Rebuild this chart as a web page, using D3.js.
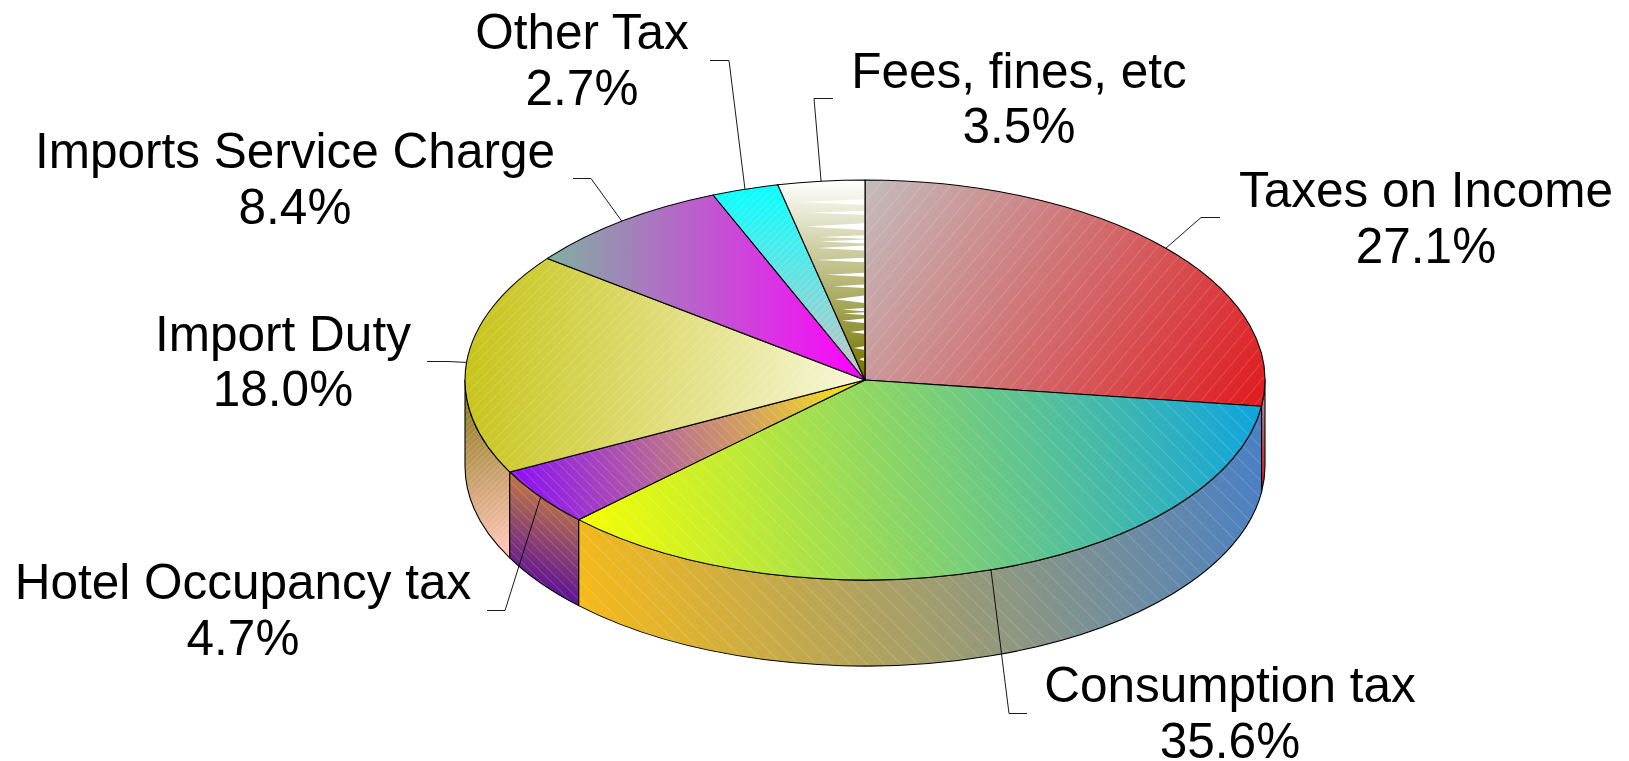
<!DOCTYPE html>
<html>
<head>
<meta charset="utf-8">
<title>Revenue by source</title>
<script src="https://cdn.jsdelivr.net/npm/d3@7/dist/d3.min.js"></script>
<style>
	html, body { margin: 0; padding: 0; background: #fff; }
	svg { display: block; }
	text { font-family: "Liberation Sans", Arial, sans-serif; font-size: 49.5px; fill: #000; text-anchor: middle; }
</style>
</head>
<body>
<div id="main"></div>
<script>
	var categories = ["Taxes on Income", "Consumption tax", "Hotel Occupancy tax", "Import Duty", "Imports Service Charge", "Other Tax", "Fees, fines, etc"];
	var shares = [27.1, 35.6, 4.7, 18.0, 8.4, 2.7, 3.5];

	/* white streaks in the fees slice, fractions of the slice height and of the radius */
	var streakDepth = [0.11, 0.164, 0.233, 0.285, 0.307, 0.34, 0.4, 0.474, 0.531, 0.596, 0.648, 0.668, 0.704, 0.76, 0.84, 0.896];
	var streakLength = [0.16, 0.135, 0.143, 0.114, 0.11, 0.118, 0.118, 0.093, 0.077, 0.073, 0.055, 0.052, 0.055, 0.035, 0.026, 0.012];
	var streakThick = [0.027, 0.02, 0.033, 0.018, 0.02, 0.025, 0.022, 0.02, 0.018, 0.037, 0.017, 0.013, 0.022, 0.018, 0.017, 0.017];

	var width = 1629, height = 761;
	var cx = 865, cy = 380, rx = 400, ry = 200, depth = 86;

	/* gradient end points and colours for each top face and wall */
	var topStyle = [
		{ from: [865, 181], to: [1258, 408], c0: "#c4bcbc", c1: "#e01c20", hatch: [-50, 11] },
		{ from: [579, 519], to: [1261, 406], c0: "#f6ff00", c1: "#0ea4de", hatch: [45, 12] },
		{ from: [510, 472], to: [865, 380], c0: "#8c10f4", c1: "#f8ea10", hatch: [45, 7.5] },
		{ from: [470, 340], to: [865, 380], c0: "#c8c41c", c1: "#f8f8dc", hatch: [-45, 7.5] },
		{ from: [548, 320], to: [865, 320], c0: "#80b0a0", c1: "#ff00ff", hatch: null },
		{ from: [800, 186], to: [800, 378], c0: "#08ffff", c1: "#ccc2c2", hatch: [-45, 5] },
		{ from: [820, 181], to: [820, 372], c0: "#ffffff", c1: "#767600", hatch: null }
	];
	var wallStyle = [
		{ from: [1263, 385], to: [1263, 485], c0: "#a89c9c", c1: "#e01414", hatch: null },
		{ from: [579, 600], to: [1261, 470], c0: "#f6ba1a", c1: "#4a80c4", hatch: [45, 12] },
		{ from: [565, 500], to: [525, 590], c0: "#bc7448", c1: "#560a9c", hatch: [45, 7] },
		{ from: [465, 385], to: [512, 545], c0: "#847610", c1: "#ffc4b6", hatch: [-45, 4] }
	];

	/* label centre and baselines, then the leader elbow and its end */
	var labelStyle = [
		{ x: 1426, y0: 207, y1: 263, elbow: [1201, 217.5], end: [1220, 217.5] },
		{ x: 1230, y0: 702, y1: 758, elbow: [1009, 713.5], end: [1027, 713.5] },
		{ x: 243, y0: 599, y1: 655, elbow: [505, 610.5], end: [487, 610.5] },
		{ x: 283, y0: 351, y1: 406, elbow: [448, 361.5], end: [427, 361.5] },
		{ x: 295, y0: 168, y1: 224, elbow: [591, 178.5], end: [573, 178.5] },
		{ x: 582, y0: 49, y1: 105, elbow: [729, 60.5], end: [710, 60.5] },
		{ x: 1019, y0: 88, y1: 143, elbow: [814, 98.5], end: [833, 98.5] }
	];

	var svg = d3.select("#main").append("svg")
		.attr("width", width)
		.attr("height", height);
	var defs = svg.append("defs");

	var pie = d3.pie().sort(null).startAngle(0).endAngle(2 * Math.PI);
	var slices = pie(shares);

	function px(a) { return cx + rx * Math.sin(a); }
	function py(a) { return cy - ry * Math.cos(a); }

	function topPath(d) {
		var large = d.endAngle - d.startAngle > Math.PI ? 1 : 0;
		return "M" + cx + "," + cy + "L" + px(d.startAngle) + "," + py(d.startAngle) +
			"A" + rx + "," + ry + " 0 " + large + " 1 " + px(d.endAngle) + "," + py(d.endAngle) + "Z";
	}

	function wallPath(a0, a1) {
		return "M" + px(a0) + "," + py(a0) +
			"A" + rx + "," + ry + " 0 0 1 " + px(a1) + "," + py(a1) +
			"L" + px(a1) + "," + (py(a1) + depth) +
			"A" + rx + "," + ry + " 0 0 0 " + px(a0) + "," + (py(a0) + depth) + "Z";
	}

	function addGradient(id, s) {
		var g = defs.append("linearGradient")
			.attr("id", id)
			.attr("gradientUnits", "userSpaceOnUse")
			.attr("x1", s.from[0]).attr("y1", s.from[1])
			.attr("x2", s.to[0]).attr("y2", s.to[1]);
		g.append("stop").attr("offset", 0).attr("stop-color", s.c0);
		g.append("stop").attr("offset", 1).attr("stop-color", s.c1);
	}

	function addHatch(id, h) {
		var p = defs.append("pattern")
			.attr("id", id)
			.attr("patternUnits", "userSpaceOnUse")
			.attr("width", h[1])
			.attr("height", h[1])
			.attr("patternTransform", "rotate(" + h[0] + ")");
		p.append("line")
			.attr("x1", 0).attr("y1", 0)
			.attr("x2", h[1]).attr("y2", 0)
			.attr("stroke", "#fff")
			.attr("stroke-opacity", 0.24)
			.attr("stroke-width", 1.2);
	}

	function drawFace(g, path, id, s) {
		addGradient("grad" + id, s);
		g.append("path").attr("d", path).attr("fill", "url(#grad" + id + ")");
		if (s.hatch) {
			addHatch("hatch" + id, s.hatch);
			g.append("path").attr("d", path).attr("fill", "url(#hatch" + id + ")");
		}
		g.append("path")
			.attr("d", path)
			.attr("fill", "none")
			.attr("stroke", "#000")
			.attr("stroke-width", 1.1)
			.attr("stroke-linejoin", "round");
	}

	/* only the front half of the rim shows */
	var walls = svg.append("g");
	[0, 3, 1, 2].forEach(function(i) {
		var a0 = Math.max(slices[i].startAngle, Math.PI / 2);
		var a1 = Math.min(slices[i].endAngle, 3 * Math.PI / 2);
		drawFace(walls, wallPath(a0, a1), "Wall" + i, wallStyle[i]);
	});

	var tops = svg.append("g");
	slices.forEach(function(d, i) {
		drawFace(tops, topPath(d), "Top" + i, topStyle[i]);
	});

	var streakY = d3.scaleLinear().domain([0, 1]).range([cy - ry, cy]);
	var streakLine = d3.line();
	tops.append("g").selectAll("path")
		.data(streakDepth)
		.enter().append("path")
		.attr("fill", "#fff")
		.attr("d", function(d, i) {
			var right = cx - 1;
			var half = streakThick[i] * ry / 2;
			return streakLine([
				[right - streakLength[i] * rx, streakY(d)],
				[right, streakY(d) - half],
				[right, streakY(d) + half]
			]) + "Z";
		});

	var leaders = svg.append("g");
	var labels = svg.append("g");
	slices.forEach(function(d, i) {
		var mid = (d.startAngle + d.endAngle) / 2;
		var s = labelStyle[i];
		leaders.append("path")
			.attr("d", d3.line()([[px(mid), py(mid)], s.elbow, s.end]))
			.attr("fill", "none")
			.attr("stroke", "#000")
			.attr("stroke-width", 0.9);
		labels.append("text")
			.attr("x", s.x)
			.attr("y", s.y0)
			.text(categories[i]);
		labels.append("text")
			.attr("x", s.x)
			.attr("y", s.y1)
			.text(d3.format(".1f")(d.data) + "%");
	});
</script>
</body>
</html>
